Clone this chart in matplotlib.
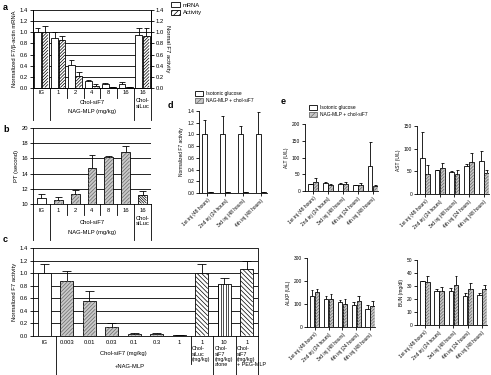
import numpy as np
import matplotlib
matplotlib.use("Agg")
import matplotlib.pyplot as plt
from matplotlib.patches import Patch
from matplotlib.collections import LineCollection

W, H = 491, 375

# ---- data ----
# panel a: mRNA and activity, normalized
a_cats = ["IG", "1", "2", "4", "8", "16", "16"]
a_mrna = [1.0, 0.89, 0.41, 0.13, 0.08, 0.08, 0.96]
a_mrna_err = [0.07, 0.12, 0.10, 0.01, 0.01, 0.03, 0.12]
a_act = [1.0, 0.87, 0.22, 0.04, 0.01, 0.01, 0.93]
a_act_err = [0.12, 0.07, 0.06, 0.03, 0.0, 0.0, 0.15]

# panel b: prothrombin time
b_pt = [10.85, 10.55, 11.35, 14.7, 16.2, 16.8, 11.2]
b_pt_err = [0.45, 0.4, 0.5, 1.7, 0.08, 0.8, 0.55]

# panel c: F7 activity vs dose
c_cats = ["IG", "0.003", "0.01", "0.03", "0.1", "0.3", "1", "1", "10", "1"]
c_act = [1.0, 0.88, 0.55, 0.15, 0.03, 0.03, 0.01, 1.0, 0.83, 1.07]
c_act_err = [0.14, 0.16, 0.17, 0.06, 0.01, 0.01, 0.0, 0.14, 0.09, 0.12]
c_extra = ["Chol-\nsiLuc\n(mg/kg)", "Chol-\nsiF7\n(mg/kg)\nalone", "Chol-\nsiF7\n(mg/kg)\n+ PEG-MLP"]

# panel d: repeated injections
d_cats = ["1st inj (48 hours)", "2nd inj (24 hours)", "3rd inj (48 hours)", "4th inj (48 hours)"]
d_ig = [1.0, 1.0, 1.0, 1.0]
d_ig_err = [0.24, 0.31, 0.15, 0.38]
d_nag = [0.01, 0.02, 0.01, 0.01]
d_nag_err = [0.003, 0.004, 0.003, 0.003]

# panel e: clinical chemistry
e_cats = ["1st inj (48 hours)", "2nd inj (24 hours)", "3rd inj (48 hours)",
          "4th inj (24 hours)", "4th inj (48 hours)"]
alt_ig = [20, 25, 22, 18, 75]
alt_ig_err = [2, 3, 3, 1, 72]
alt_nag = [27, 17, 21, 18, 15]
alt_nag_err = [12, 3, 5, 6, 3]
ast_ig = [80, 52, 48, 61, 72]
ast_ig_err = [57, 2, 3, 6, 22]
ast_nag = [45, 57, 45, 70, 47]
ast_nag_err = [20, 12, 7, 20, 7]
alkp_ig = [135, 122, 110, 97, 78]
alkp_ig_err = [25, 12, 8, 12, 17]
alkp_nag = [152, 120, 100, 113, 90]
alkp_nag_err = [13, 22, 22, 22, 22]
bun_ig = [33.5, 26, 26.5, 22.5, 23]
bun_ig_err = [0.5, 2, 2, 2.5, 2]
bun_nag = [33, 26.5, 30.5, 28, 28]
bun_nag_err = [5, 2.5, 7, 4, 3]

plt.rcParams['font.family'] = ['Liberation Sans', 'DejaVu Sans']
plt.rcParams['font.size'] = 4.2
plt.rcParams['axes.linewidth'] = 0.6
plt.rcParams['hatch.linewidth'] = 0.5
plt.rcParams['xtick.major.width'] = 0.6
plt.rcParams['ytick.major.width'] = 0.6

GRAY = '#c8c8c8'
HGRAY = '#6a6a6a'
FS = 4.2
FS2 = 3.5

fig = plt.figure(figsize=(W / 100, H / 100), dpi=100)
hatch_jobs = []


def axes_px(l, t, r, b):
    return fig.add_axes([l / W, 1 - b / H, (r - l) / W, (b - t) / H])


def bars(ax, x, h, w, face='white', hatch=None, hcolor='black', step=2.6):
    cont = ax.bar(x, h, w, color=face, edgecolor='black', linewidth=0.6, zorder=2)
    if hatch:
        hatch_jobs.append((ax, cont, hatch, step, hcolor))


def draw_hatches():
    # hatch lines worked out in pixels, placed on the figure in figure fractions
    fw, fh = fig.bbox.width, fig.bbox.height
    for ax, cont, kind, step, color in hatch_jobs:
        segs = []
        ay0, ay1 = ax.bbox.y0, ax.bbox.y1
        for p in cont.patches:
            (x0, y0), (x1, y1) = ax.transData.transform(
                [[p.get_x(), p.get_y()], [p.get_x() + p.get_width(), p.get_y() + p.get_height()]])
            y0, y1 = max(min(y0, y1), ay0), min(max(y0, y1), ay1)
            x0, x1 = x0 + 0.5, x1 - 0.5
            y0, y1 = y0 + 0.5, y1 - 0.5
            if y1 - y0 < 0.8:
                continue
            if kind == '/':
                d = step * np.sqrt(2)
                for c in np.arange(np.floor((y0 - x1) / d) * d, y1 - x0, d):
                    xa, xb = max(x0, y0 - c), min(x1, y1 - c)
                    if xb > xa:
                        segs.append([(xa, xa + c), (xb, xb + c)])
            elif kind == '\\':
                d = step * np.sqrt(2)
                for c in np.arange(np.floor((x0 + y0) / d) * d, x1 + y1, d):
                    xa, xb = max(x0, c - y1), min(x1, c - y0)
                    if xb > xa:
                        segs.append([(xa, c - xa), (xb, c - xb)])
            else:
                for c in np.arange(np.ceil(x0 / step) * step, x1, step):
                    segs.append([(c, y0), (c, y1)])
        if not segs:
            continue
        segs = [np.array(s) / [fw, fh] for s in segs]
        lc = LineCollection(segs, colors=color, linewidths=0.5, zorder=5,
                            transform=fig.transFigure)
        fig.add_artist(lc)


def errs(ax, x, y, e, cap):
    x = np.asarray(x, float)
    top = np.asarray(y) + np.asarray(e)
    ax.vlines(x, y, top, color='black', lw=0.6, zorder=3)
    ax.hlines(top, x - cap, x + cap, color='black', lw=0.6, zorder=3)


def drop(ax, x, depth, hpx):
    ax.plot([x, x], [0, -depth / hpx], transform=ax.get_xaxis_transform(),
            color='black', lw=0.6, clip_on=False)


def below(ax, x, depth, hpx, s, va='center', ha='center', fs=FS, **kw):
    ax.text(x, -depth / hpx, s, transform=ax.get_xaxis_transform(),
            ha=ha, va=va, fontsize=fs, **kw)


def grid_style(ax, ticks, fmt):
    ax.set_yticks(ticks)
    ax.set_yticklabels([fmt.format(t) for t in ticks], fontsize=FS)
    ax.yaxis.grid(True, color='black', lw=0.6)
    ax.set_axisbelow(True)
    ax.tick_params(axis='y', length=2, pad=1.5)
    ax.tick_params(axis='x', length=0)
    ax.set_xticks([])
    ax.spines['top'].set_visible(False)


# ---- panel a ----
ax = axes_px(33, 10, 151, 88)
hpx = 78
x = np.arange(len(a_cats))
bars(ax, x - 0.22, a_mrna, 0.4)
bars(ax, x + 0.22, a_act, 0.4, hatch='/', step=2.2)
errs(ax, x - 0.22, a_mrna, a_mrna_err, 0.16)
errs(ax, x + 0.22, a_act, a_act_err, 0.16)
ax.set_xlim(-0.5, len(a_cats) - 0.5)
ax.set_ylim(0, 1.4)
grid_style(ax, np.arange(0, 1.41, 0.2), "{:.1f}")
ax.set_ylabel("Normalized F7/\u03b2-actin mRNA", fontsize=FS, labelpad=2)
ax2 = ax.twinx()
ax2.set_ylim(0, 1.4)
ax2.set_yticks(np.arange(0, 1.41, 0.2))
ax2.set_yticklabels(["{:.1f}".format(t) for t in np.arange(0, 1.41, 0.2)], fontsize=FS)
ax2.tick_params(axis='y', length=2, pad=1.5)
ax2.spines['top'].set_visible(False)
ax2.set_ylabel("Normal F7 activity", fontsize=FS, rotation=270, labelpad=4)
for i, c in enumerate(a_cats):
    below(ax, i, 4.5, hpx, c)
for xb in [-0.5, 0.5, 5.5, 6.5]:
    drop(ax, xb, 32, hpx)
for xb in [1.5, 2.5, 3.5, 4.5]:
    drop(ax, xb, 10, hpx)
below(ax, 3, 15, hpx, "Chol-siF7")
below(ax, 3, 24, hpx, "NAG-MLP (mg/kg)")
below(ax, 6, 10.5, hpx, "Chol-\nsiLuc", va='top', linespacing=1.1)
fig.legend(handles=[Patch(facecolor='white', edgecolor='black', lw=0.6),
                    Patch(facecolor='white', edgecolor='black', lw=0.6, hatch='//////')],
           labels=["mRNA", "Activity"], loc='upper left', bbox_to_anchor=(171 / W, 1 - 2 / H),
           frameon=False, fontsize=FS, handlelength=1.5, handleheight=1.0,
           handletextpad=0.5, labelspacing=0.35, borderpad=0, borderaxespad=0)

# ---- panel b ----
ax = axes_px(33, 128, 151, 204)
hpx = 76
x = np.arange(len(a_cats))
bars(ax, x[:1], b_pt[:1], 0.52)
bars(ax, x[1:6], b_pt[1:6], 0.52, face=GRAY, hatch='/', hcolor=HGRAY)
bars(ax, x[6:], b_pt[6:], 0.52, hatch='\\', step=1.8)
errs(ax, x, b_pt, b_pt_err, 0.2)
ax.set_xlim(-0.5, len(a_cats) - 0.5)
ax.set_ylim(10, 20)
grid_style(ax, np.arange(10, 21, 2), "{:d}")
ax.spines['right'].set_visible(False)
ax.set_ylabel("PT (second)", fontsize=FS, labelpad=2)
for i, c in enumerate(a_cats):
    below(ax, i, 6, hpx, c)
for xb in [-0.5, 0.5, 5.5, 6.5]:
    drop(ax, xb, 36, hpx)
for xb in [1.5, 2.5, 3.5, 4.5]:
    drop(ax, xb, 11, hpx)
below(ax, 3, 18, hpx, "Chol-siF7")
below(ax, 3, 28, hpx, "NAG-MLP (mg/kg)")
below(ax, 6, 12, hpx, "Chol-\nsiLuc", va='top', linespacing=1.1)

# ---- panel c ----
ax = axes_px(33, 248, 258, 336)
hpx = 88
x = np.arange(len(c_cats))
bars(ax, x[:1], c_act[:1], 0.58)
bars(ax, x[1:7], c_act[1:7], 0.58, face=GRAY, hatch='/', hcolor=HGRAY)
bars(ax, x[7:8], c_act[7:8], 0.58, hatch='\\', step=3.2)
bars(ax, x[8:9], c_act[8:9], 0.58, hatch='|', step=2.4)
bars(ax, x[9:], c_act[9:], 0.58, hatch='\\', step=3.2)
errs(ax, x, c_act, c_act_err, 0.2)
ax.set_xlim(-0.5, len(c_cats) - 0.5)
ax.set_ylim(0, 1.4)
grid_style(ax, np.arange(0, 1.41, 0.2), "{:.1f}")
ax.set_ylabel("Normalized F7 activity", fontsize=FS, labelpad=2)
for i, c in enumerate(c_cats):
    below(ax, i, 7, hpx, c)
drop(ax, 0.5, 40, hpx)
drop(ax, 6.5, 28, hpx)
for xb in [7.5, 8.5, 9.5]:
    drop(ax, xb, 40, hpx)
for i, s in zip([7, 8, 9], c_extra):
    below(ax, i - 0.43, 10.5, hpx, s, va='top', ha='left', fs=3.9, linespacing=1.0)
below(ax, 3.5, 17, hpx, "Chol-siF7 (mg/kg)")
below(ax, 3.8, 31, hpx, "+NAG-MLP")


# ---- GraphPad-style panels d & e ----
def prism(ax, cats, ig, ig_e, nag, nag_e, ylim, yticks, ylabel, fmt, xlim, w, off):
    x = np.arange(len(cats))
    bars(ax, x - off, ig, w)
    bars(ax, x + off, nag, w, face=GRAY, hatch='/', hcolor=HGRAY, step=2.2)
    errs(ax, x - off, ig, ig_e, w * 0.3)
    errs(ax, x + off, nag, nag_e, w * 0.3)
    ax.set_xlim(*xlim)
    ax.set_ylim(*ylim)
    ax.set_yticks(yticks)
    ax.set_yticklabels([fmt.format(t) for t in yticks], fontsize=FS2)
    ax.set_xticks(x)
    ax.set_xticklabels(cats, rotation=45, ha='right', rotation_mode='anchor', fontsize=FS2)
    ax.tick_params(length=2, pad=1.5)
    for s in ['top', 'right']:
        ax.spines[s].set_visible(False)
    ax.set_ylabel(ylabel, fontsize=FS2, labelpad=2)


ax = axes_px(199, 111, 267, 193)
prism(ax, d_cats, d_ig, d_ig_err, d_nag, d_nag_err, (0, 1.4), np.arange(0, 1.41, 0.2),
      "Normalized F7 activity", "{:.1f}", (-0.47, 3.33), 0.28, 0.15)
fig.legend(handles=[Patch(facecolor='white', edgecolor='black', lw=0.6),
                    Patch(facecolor=GRAY, edgecolor=HGRAY, lw=0.6, hatch='//////')],
           labels=["Isotonic glucose", "NAG-MLP + chol-siF7"], loc='upper left',
           bbox_to_anchor=(195 / W, 1 - 91 / H), frameon=False, fontsize=FS2,
           handlelength=1.7, handleheight=1.0, handletextpad=0.6, labelspacing=0.45,
           borderpad=0, borderaxespad=0)

e_xlim = (-0.55, 4.35)
ax = axes_px(305, 124, 378, 191)
prism(ax, e_cats, alt_ig, alt_ig_err, alt_nag, alt_nag_err, (0, 200), [0, 50, 100, 150, 200],
      "ALT (U/L)", "{:d}", e_xlim, 0.32, 0.18)
ax = axes_px(417, 126, 489, 194)
prism(ax, e_cats, ast_ig, ast_ig_err, ast_nag, ast_nag_err, (0, 150), [0, 50, 100, 150],
      "AST (U/L)", "{:d}", e_xlim, 0.32, 0.18)
ax = axes_px(307, 258, 375, 327)
prism(ax, e_cats, alkp_ig, alkp_ig_err, alkp_nag, alkp_nag_err, (0, 300), [0, 100, 200, 300],
      "ALKP (U/L)", "{:d}", e_xlim, 0.32, 0.18)
ax = axes_px(417, 260, 487, 325)
prism(ax, e_cats, bun_ig, bun_ig_err, bun_nag, bun_nag_err, (0, 50), [0, 10, 20, 30, 40, 50],
      "BUN (mg/dl)", "{:d}", e_xlim, 0.32, 0.18)
fig.legend(handles=[Patch(facecolor='white', edgecolor='black', lw=0.6),
                    Patch(facecolor=GRAY, edgecolor=HGRAY, lw=0.6, hatch='//////')],
           labels=["Isotonic glucose", "NAG-MLP + chol-siF7"], loc='upper left',
           bbox_to_anchor=(309 / W, 1 - 105 / H), frameon=False, fontsize=FS2,
           handlelength=1.7, handleheight=1.0, handletextpad=0.6, labelspacing=0.45,
           borderpad=0, borderaxespad=0)

# panel letters
for s, px, py in [("a", 3, 8), ("b", 3, 129), ("c", 3, 239), ("d", 168, 105), ("e", 281, 102)]:
    fig.text(px / W, 1 - py / H, s, fontsize=6.5, fontweight='bold', va='center', ha='left')

draw_hatches()
fig.savefig("out.png", dpi=100)
